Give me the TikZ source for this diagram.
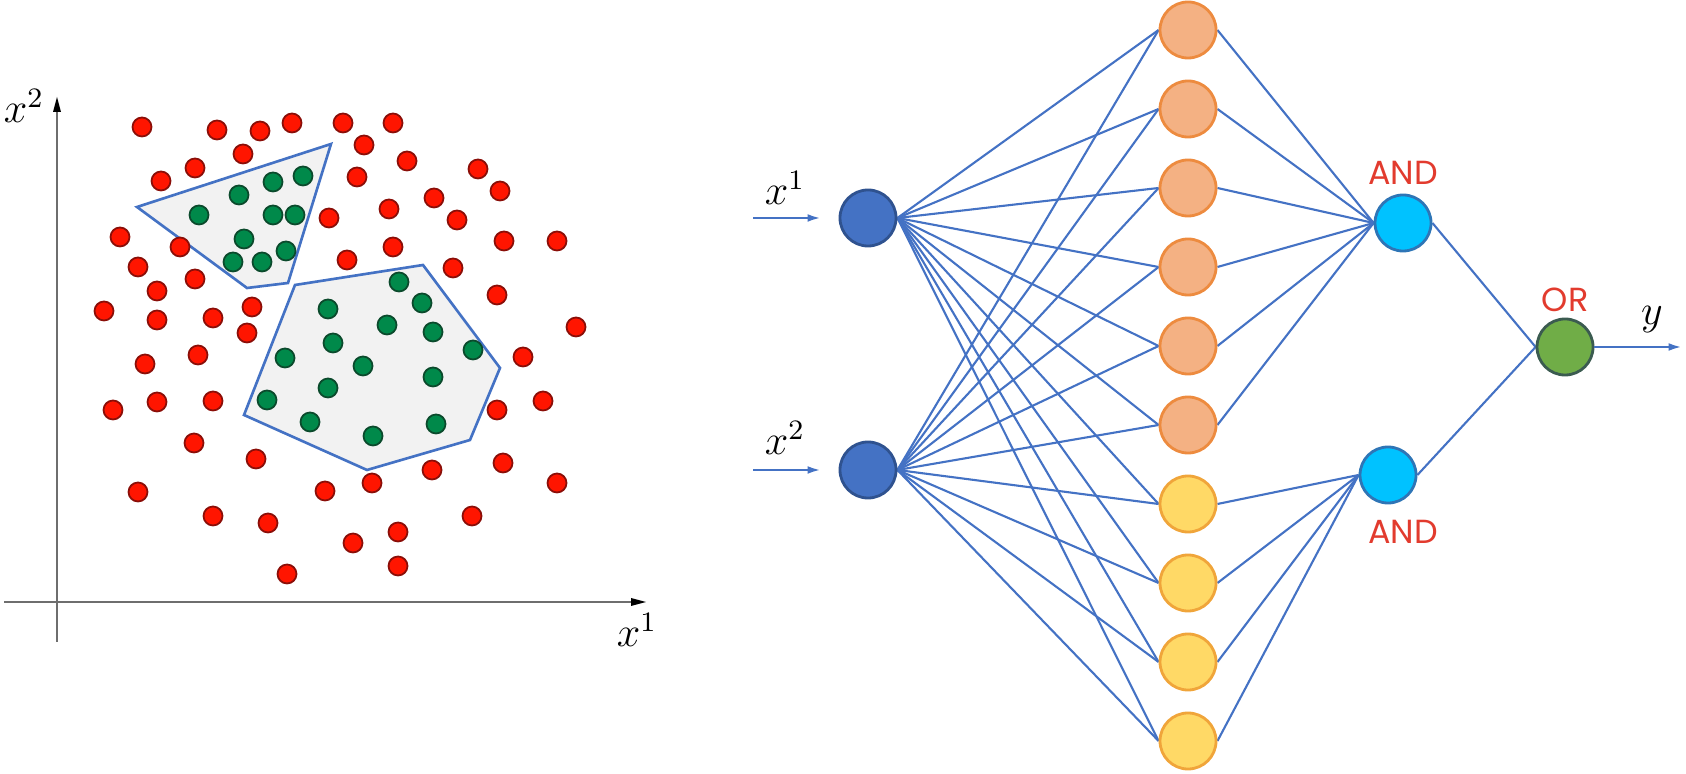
\documentclass[tikz,border=0pt]{standalone}
\usepackage{fontspec}
\newfontfamily\gatefont{Poppins}
\usetikzlibrary{arrows.meta,backgrounds}
\definecolor{netblue}{HTML}{4472C4}
\definecolor{inblue}{HTML}{4472C4}
\definecolor{inborder}{HTML}{2F528F}
\definecolor{orfill}{HTML}{F4B183}
\definecolor{ordraw}{HTML}{ED8B3F}
\definecolor{yefill}{HTML}{FFD966}
\definecolor{yedraw}{HTML}{F0A53A}
\definecolor{andfill}{HTML}{00C2FF}
\definecolor{anddraw}{HTML}{2E75B6}
\definecolor{orgfill}{HTML}{70AD47}
\definecolor{orgdraw}{HTML}{3B5B50}
\definecolor{gatered}{HTML}{E23B2E}
\definecolor{dotred}{HTML}{FF1500}
\definecolor{dotredb}{HTML}{8A0E08}
\definecolor{dotgreen}{HTML}{00894A}
\definecolor{dotgreenb}{HTML}{0B4A2C}
\definecolor{polyfill}{HTML}{F2F2F2}
\definecolor{axisgray}{HTML}{6E6E6E}
\begin{document}
\begin{tikzpicture}[x=0.01cm,y=-0.01cm,
  neuron/.style={circle,minimum size=0.56cm,inner sep=0pt,line width=0.8pt},
  inneuron/.style={neuron,fill=inblue,draw=inborder},
  orneuron/.style={neuron,fill=orfill,draw=ordraw},
  yeneuron/.style={neuron,fill=yefill,draw=yedraw},
  andneuron/.style={neuron,fill=andfill,draw=anddraw},
  orgate/.style={neuron,fill=orgfill,draw=orgdraw},
  wire/.style={draw=netblue,line width=0.6pt},
  inarrow/.style={draw=netblue,line width=0.7pt,-{Latex[length=3.8pt,width=2.2pt]}},
  gatelabel/.style={text=gatered,font=\gatefont\fontsize{9.5}{11}\selectfont,inner sep=0pt},
  mathlabel/.style={font=\fontsize{12}{14}\selectfont,inner sep=0pt},
  reddot/.style={fill=dotred,draw=dotredb,line width=0.5pt},
  greendot/.style={fill=dotgreen,draw=dotgreenb,line width=0.5pt},
  region/.style={fill=polyfill,draw=netblue,line width=0.75pt,line join=miter},
  axis/.style={draw=axisgray,line width=0.6pt,-{Latex[length=3.6pt,width=3.4pt]},color=black}
]
\useasboundingbox (0,0) rectangle (1686,774);

% ---------------- left panel: scatter plot ----------------
\draw[draw=axisgray,line width=0.6pt] (57,642) -- (57,110);
\draw[draw=axisgray,line width=0.6pt] (4,602) -- (635,602);
\fill[black] (57,97) -- (53,112) -- (61,112) -- cycle;
\fill[black] (646,602) -- (631,598) -- (631,606) -- cycle;
\node[mathlabel,font=\fontsize{11.5}{13}\selectfont] (lx2) at (24,106) {$x^2$};
\node[mathlabel,font=\fontsize{11.5}{13}\selectfont] (lx1) at (637,630) {$x^1$};

\path[region] (137,207) -- (331,144) -- (288,283) -- (247,288) -- cycle;
\path[region] (295,285) -- (423,265) -- (500,368) -- (470,440) -- (367,470) -- (244,415) -- cycle;

\foreach \p in {(142,127),(217,130),(260,131),(292,123),(343,123),(393,123),(243,154),(364,145),
  (195,168),(161,181),(407,161),(357,177),(478,169),(500,191),(434,198),(389,209),(329,218),
  (457,220),(504,241),(557,241),(393,247),(120,237),(180,247),(347,260),(453,268),(138,267),
  (195,279),(157,291),(252,307),(104,311),(157,320),(213,318),(247,333),(198,355),(145,364),
  (497,295),(576,327),(523,357),(157,402),(213,401),(113,410),(543,401),(497,410),(194,443),
  (256,459),(503,463),(138,492),(213,516),(268,523),(287,574),(325,491),(372,483),(432,470),
  (557,483),(472,516),(398,532),(353,543),(398,566)}
  \filldraw[reddot] \p circle[radius=9.5];

\foreach \p in {(303,176),(273,182),(239,195),(199,215),(273,215),(295,215),(244,239),(286,251),
  (233,262),(262,262),
  (399,282),(422,303),(328,309),(387,325),(433,332),(333,343),(473,350),(285,358),(363,366),
  (433,377),(328,388),(267,400),(310,422),(436,424),(373,436)}
  \filldraw[greendot] \p circle[radius=9.5];

% ---------------- right panel: network ----------------
\node[inneuron] (x1) at (868,218) {};
\node[inneuron] (x2) at (868,470) {};
\foreach \i in {1,...,6}
  \node[orneuron] (h\i) at (1188,{30+79*(\i-1)}) {};
\foreach \i in {7,...,10}
  \node[yeneuron] (h\i) at (1188,{30+79*(\i-1)}) {};
\node[andneuron] (a1) at (1403,223) {};
\node[andneuron] (a2) at (1388,475) {};
\node[orgate] (o) at (1565,347) {};

\coordinate (in1) at (753,218);
\coordinate (in2) at (753,470);
\coordinate (out) at (1682,347);

\node[mathlabel] (lbx1) at (785,188) {$x^1$};
\node[mathlabel] (lbx2) at (785,438) {$x^2$};
\node[mathlabel] (lby) at (1652,320) {$y$};
\node[gatelabel] (t1) at (1403,173) {AND};
\node[gatelabel] (t2) at (1403,532) {AND};
\node[gatelabel] (t3) at (1565,300) {OR};

\begin{scope}[on background layer]
  \foreach \i in {1,...,10} {
    \draw[wire] (x1.east) -- (h\i.west);
    \draw[wire] (x2.east) -- (h\i.west);
  }
  \foreach \i in {1,...,6}
    \draw[wire] (h\i.east) -- (a1.west);
  \foreach \i in {7,...,10}
    \draw[wire] (h\i.east) -- (a2.west);
  \draw[wire] (a1.east) -- (o.west);
  \draw[wire] (a2.east) -- (o.west);
\end{scope}
\draw[inarrow,shorten >=5pt] (in1) -- (x1.west);
\draw[inarrow,shorten >=5pt] (in2) -- (x2.west);
\draw[inarrow] (o.east) -- (out);
\end{tikzpicture}
\end{document}
